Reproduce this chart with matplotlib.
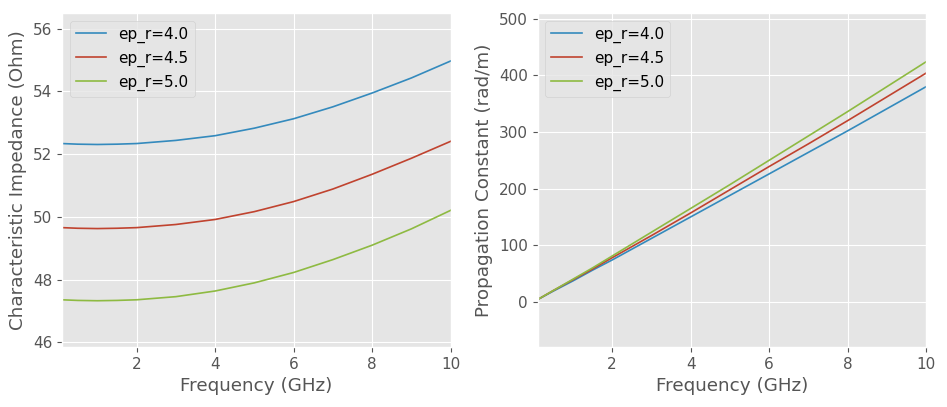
import matplotlib
matplotlib.use("Agg")
import matplotlib.pyplot as plt

plt.style.use("ggplot")
plt.rcParams["xtick.labelsize"] = 11
plt.rcParams["ytick.labelsize"] = 11
plt.rcParams["axes.labelsize"] = 13.2
plt.rcParams["legend.fontsize"] = 11

# frequency samples (GHz)
freq = [0.1, 0.5, 1, 1.5, 2, 3, 4, 5, 6, 7, 8, 9, 10]
labels = ["ep_r=4.0", "ep_r=4.5", "ep_r=5.0"]
colors = ["#348ABD", "#C0432F", "#8EBA42"]

# characteristic impedance (Ohm)
z0_40 = [52.34, 52.32, 52.31, 52.32, 52.34, 52.44, 52.59, 52.83, 53.13, 53.51, 53.95, 54.43, 54.97]
z0_45 = [49.66, 49.64, 49.63, 49.64, 49.66, 49.76, 49.92, 50.17, 50.49, 50.89, 51.36, 51.87, 52.41]
z0_50 = [47.36, 47.34, 47.33, 47.34, 47.36, 47.46, 47.64, 47.90, 48.23, 48.64, 49.10, 49.62, 50.21]

# propagation constant (rad/m)
beta_40 = [4, 19, 37, 56, 74, 112, 150, 188, 226, 264, 302, 341, 380]
beta_45 = [4, 20, 39, 58, 78, 117, 157, 198, 239, 279, 320, 362, 404]
beta_50 = [4, 20, 40, 60, 81, 123, 165, 207, 250, 293, 336, 380, 424]

fig, (ax1, ax2) = plt.subplots(1, 2, figsize=(9.47, 4.07), dpi=100)
fig.subplots_adjust(left=0.0655, right=0.978, bottom=0.147, top=0.968, wspace=0.224)

for ys, lab, c in zip([z0_40, z0_45, z0_50], labels, colors):
    ax1.plot(freq, ys, lw=1.2, color=c, label=lab)
ax1.set_xlim(0.1, 10)
ax1.set_ylim(45.85, 56.5)
ax1.set_xlabel("Frequency (GHz)")
ax1.set_ylabel("Characteristic Impedance (Ohm)")
ax1.legend(loc="upper left")

for ys, lab, c in zip([beta_40, beta_45, beta_50], labels, colors):
    ax2.plot(freq, ys, lw=1.2, color=c, label=lab)
ax2.set_xlim(0.1, 10)
ax2.set_ylim(-80, 510)
ax2.set_xlabel("Frequency (GHz)")
ax2.set_ylabel("Propagation Constant (rad/m)")
ax2.legend(loc="upper left")

fig.savefig("out.png", dpi=100)
